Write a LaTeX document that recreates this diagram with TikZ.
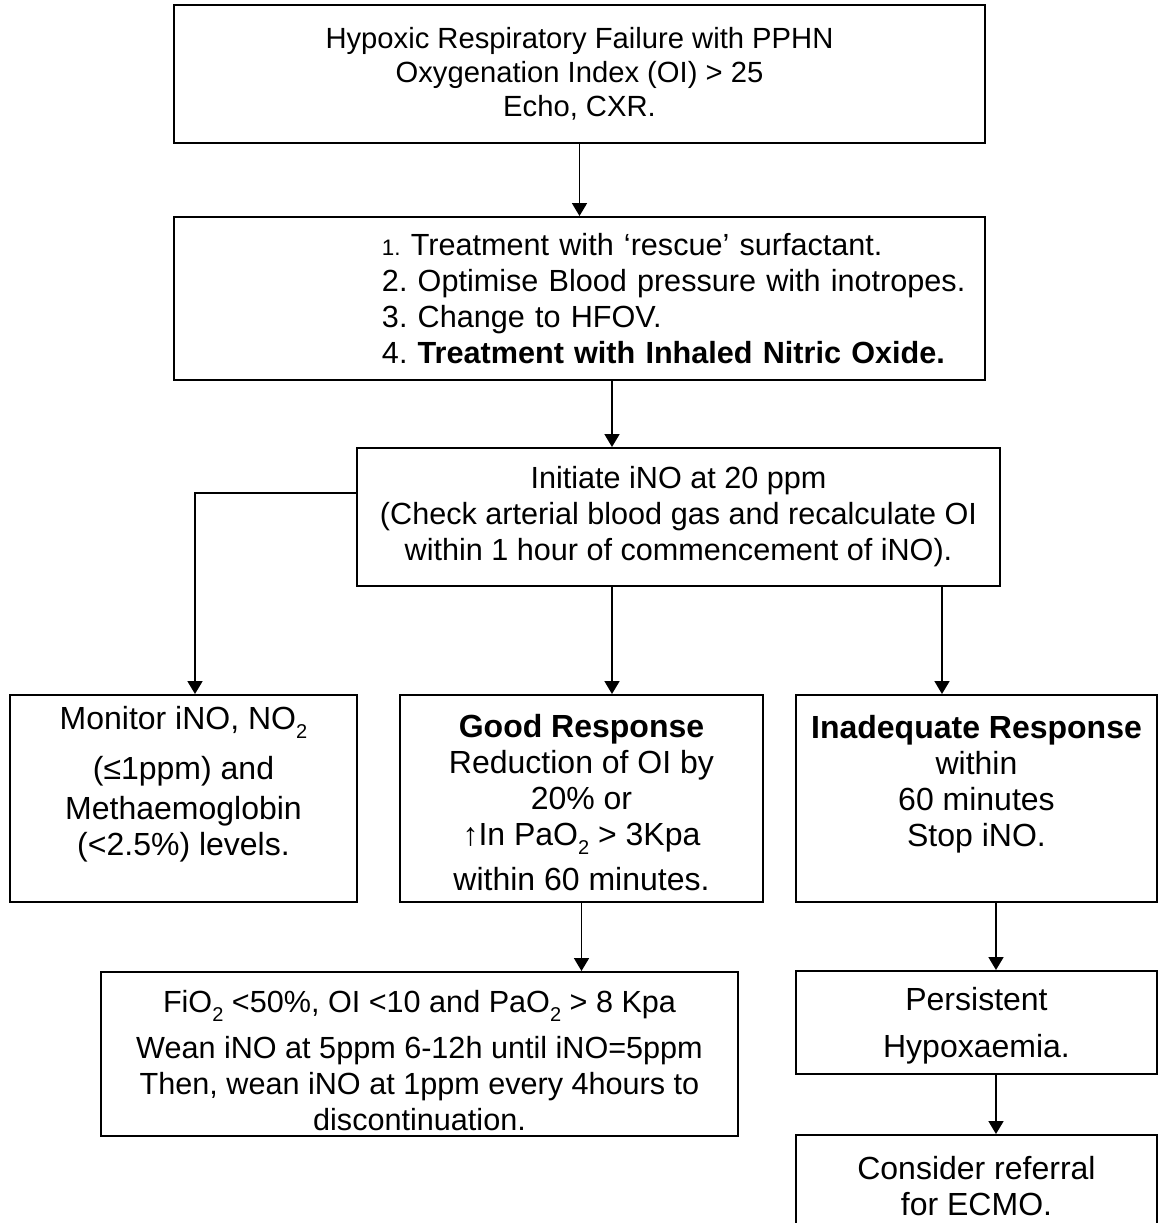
\documentclass[tikz,border=0pt]{standalone}
\usepackage{fontspec}
\setmainfont{Liberation Sans}
\frenchspacing
\usepackage{tikz}
\usetikzlibrary{arrows.meta}
\newcommand{\subtwo}{\raisebox{-4.5pt}{\fontsize{10pt}{10pt}\selectfont 2}}
\tikzstyle{panel} = [draw=black,line width=1pt,align=center,inner xsep=0pt,inner ysep=2pt,font=\fontsize{16pt}{18pt}\selectfont]
\tikzstyle{small} = [font=\fontsize{15.3pt}{18pt}\selectfont]
\tikzstyle{link} = [line width=0.9pt,-{Triangle[width=7.5pt,length=6.5pt]}]

\begin{document}
\begin{tikzpicture}[x=0.5pt,y=-0.5pt]
    \useasboundingbox (0,0) rectangle (1160,1223);
    \clip (0,0) rectangle (1160,1223);
    % top of the chart
    \node[panel,font=\fontsize{14.6pt}{17pt}\selectfont,minimum width=405.5pt,minimum height=69pt] (fail) at (579.5,74)
        {Hypoxic Respiratory Failure with PPHN\\ Oxygenation Index (OI) > 25\\ Echo, CXR.};
    \node[panel,small,minimum width=405.5pt,minimum height=81.5pt,text width=405.5pt,align=left] (treat) at (579.5,298.5)
        {\leftskip=104pt\rightskip=-30pt plus 1fil
         {\fontsize{11.2pt}{18pt}\selectfont 1.} Treatment with ‘rescue’ surfactant.\\
         2. Optimise Blood pressure with inotropes.\\
         3. Change to HFOV.\\
         4. \textbf{Treatment with Inhaled Nitric Oxide.}\par};
    \node[panel,small,minimum width=321.5pt,minimum height=69pt] (init) at (678.5,517)
        {Initiate iNO at 20 ppm\\ (Check arterial blood gas and recalculate OI\\ within 1 hour of commencement of iNO).};
    % three branches
    \node[panel,minimum width=173.5pt,minimum height=103.5pt] (monitor) at (183.5,798.5)
        {Monitor iNO, NO\subtwo\\[7pt] (≤1ppm) and\\[2pt] Methaemoglobin\\ (<2.5\%) levels.\\ \mbox{}};
    \node[panel,minimum width=181.5pt,minimum height=103.5pt] (good) at (581.5,798.5)
        {\rule{0pt}{15.2pt}\textbf{Good Response}\\ Reduction of OI by\\ 20\% or\\ ↑In PaO\subtwo{} > 3Kpa\\[4.5pt] within 60 minutes.};
    \node[panel,minimum width=180.5pt,minimum height=103.5pt] (inadequate) at (976.5,798.5)
        {\textbf{Inadequate Response}\\ within\\ 60 minutes\\ Stop iNO.\\ \mbox{}};
    \node[panel,small,minimum width=318.5pt,minimum height=82pt] (wean) at (419.5,1054)
        {\rule{0pt}{17.2pt}FiO\subtwo{} <50\%, OI <10 and PaO\subtwo{} > 8 Kpa\\[5pt] Wean iNO at 5ppm 6-12h until iNO=5ppm\\ Then, wean iNO at 1ppm every 4hours to\\ discontinuation.};
    \node[panel,minimum width=180.5pt,minimum height=51.5pt] (persist) at (976.5,1022.5)
        {\rule{0pt}{15.2pt}Persistent\\[5.5pt] Hypoxaemia.};
    \node[panel,minimum width=180.5pt,minimum height=51.5pt] (ecmo) at (976.5,1186.5)
        {Consider referral\\ for ECMO.};

    \coordinate (split) at ([xshift=-33.25pt]init.north);
    \coordinate (tapL) at ([yshift=12pt]init.west);
    \coordinate (stopx) at ([xshift=-17.25pt]inadequate.north);
    \draw[link] (fail) -- (treat);
    \draw[link] (treat.south -| split) -- (split);
    \draw[link] (tapL) -| ([xshift=5.75pt]monitor.north);
    \draw[link] (init.south -| split) -- (good.north -| split);
    \draw[link] (init.south -| stopx) -- (stopx);
    \draw[link] (good.south) -- (good.south |- wean.north);
    \draw[link] ([xshift=9.75pt]inadequate.south) -- ([xshift=9.75pt]persist.north);
    \draw[link] ([xshift=9.75pt]persist.south) -- ([xshift=9.75pt]ecmo.north);
\end{tikzpicture}
\end{document}
